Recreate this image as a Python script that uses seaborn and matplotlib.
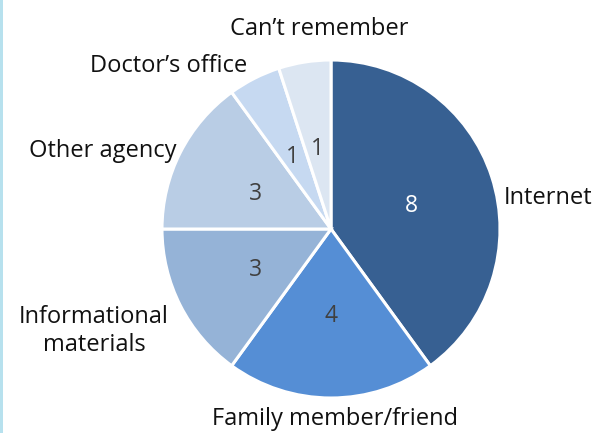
import matplotlib
matplotlib.use("Agg")
import matplotlib.pyplot as plt
import seaborn as sns
from matplotlib.patches import Rectangle

# Where respondents first heard about the service (count of responses)
sources = ["Internet", "Family member/friend", "Informational\nmaterials",
           "Other agency", "Doctor\u2019s office", "Can\u2019t remember"]
counts = [8, 4, 3, 3, 1, 1]

# Blue shades, darkest for the largest slice
slice_colors = ["#376092", "#558ED5", "#95B3D7", "#B9CDE5", "#C6D9F1", "#DCE6F2"]
value_colors = ["white", "#404040", "#404040", "#404040", "#404040", "#404040"]

# Category label anchors, in units of the pie radius
label_xy = [(1.284, 0.201), (0.024, -1.108), (-1.402, -0.602),
            (-1.349, 0.479), (-0.959, 0.982), (-0.071, 1.201)]

sns.set_theme(style="white")
plt.rcParams["font.family"] = ["Open Sans", "DejaVu Sans"]

W, H = 596, 433
fig = plt.figure(figsize=(W / 100, H / 100), dpi=100)
fig.patch.set_facecolor("white")
fig.patches.append(Rectangle((0, 0), 3 / W, 1, transform=fig.transFigure,
                             facecolor="#B7E1EE", edgecolor="none", zorder=0))

cx, cy, r = 331, 229, 169
ax = fig.add_axes([(cx - r) / W, (H - cy - r) / H, 2 * r / W, 2 * r / H])

total = sum(counts)
wedges, _, autotexts = ax.pie(
    counts, colors=slice_colors, startangle=90, counterclock=False,
    autopct=lambda p: f"{round(p * total / 100):d}", pctdistance=0.5,
    wedgeprops=dict(edgecolor="white", linewidth=2.2),
    textprops=dict(fontsize=16.5),
)
for t, c in zip(autotexts, value_colors):
    t.set_color(c)
    t.set_va("center_baseline")

for name, (x, y) in zip(sources, label_xy):
    va = "center" if "\n" in name else "center_baseline"
    ax.text(x, y, name, ha="center", va=va, fontsize=17,
            color="#111111", linespacing=1.2)

ax.set_xlim(-1, 1)
ax.set_ylim(-1, 1)
ax.set_aspect("equal")
ax.axis("off")

fig.savefig("out.png", dpi=100)
